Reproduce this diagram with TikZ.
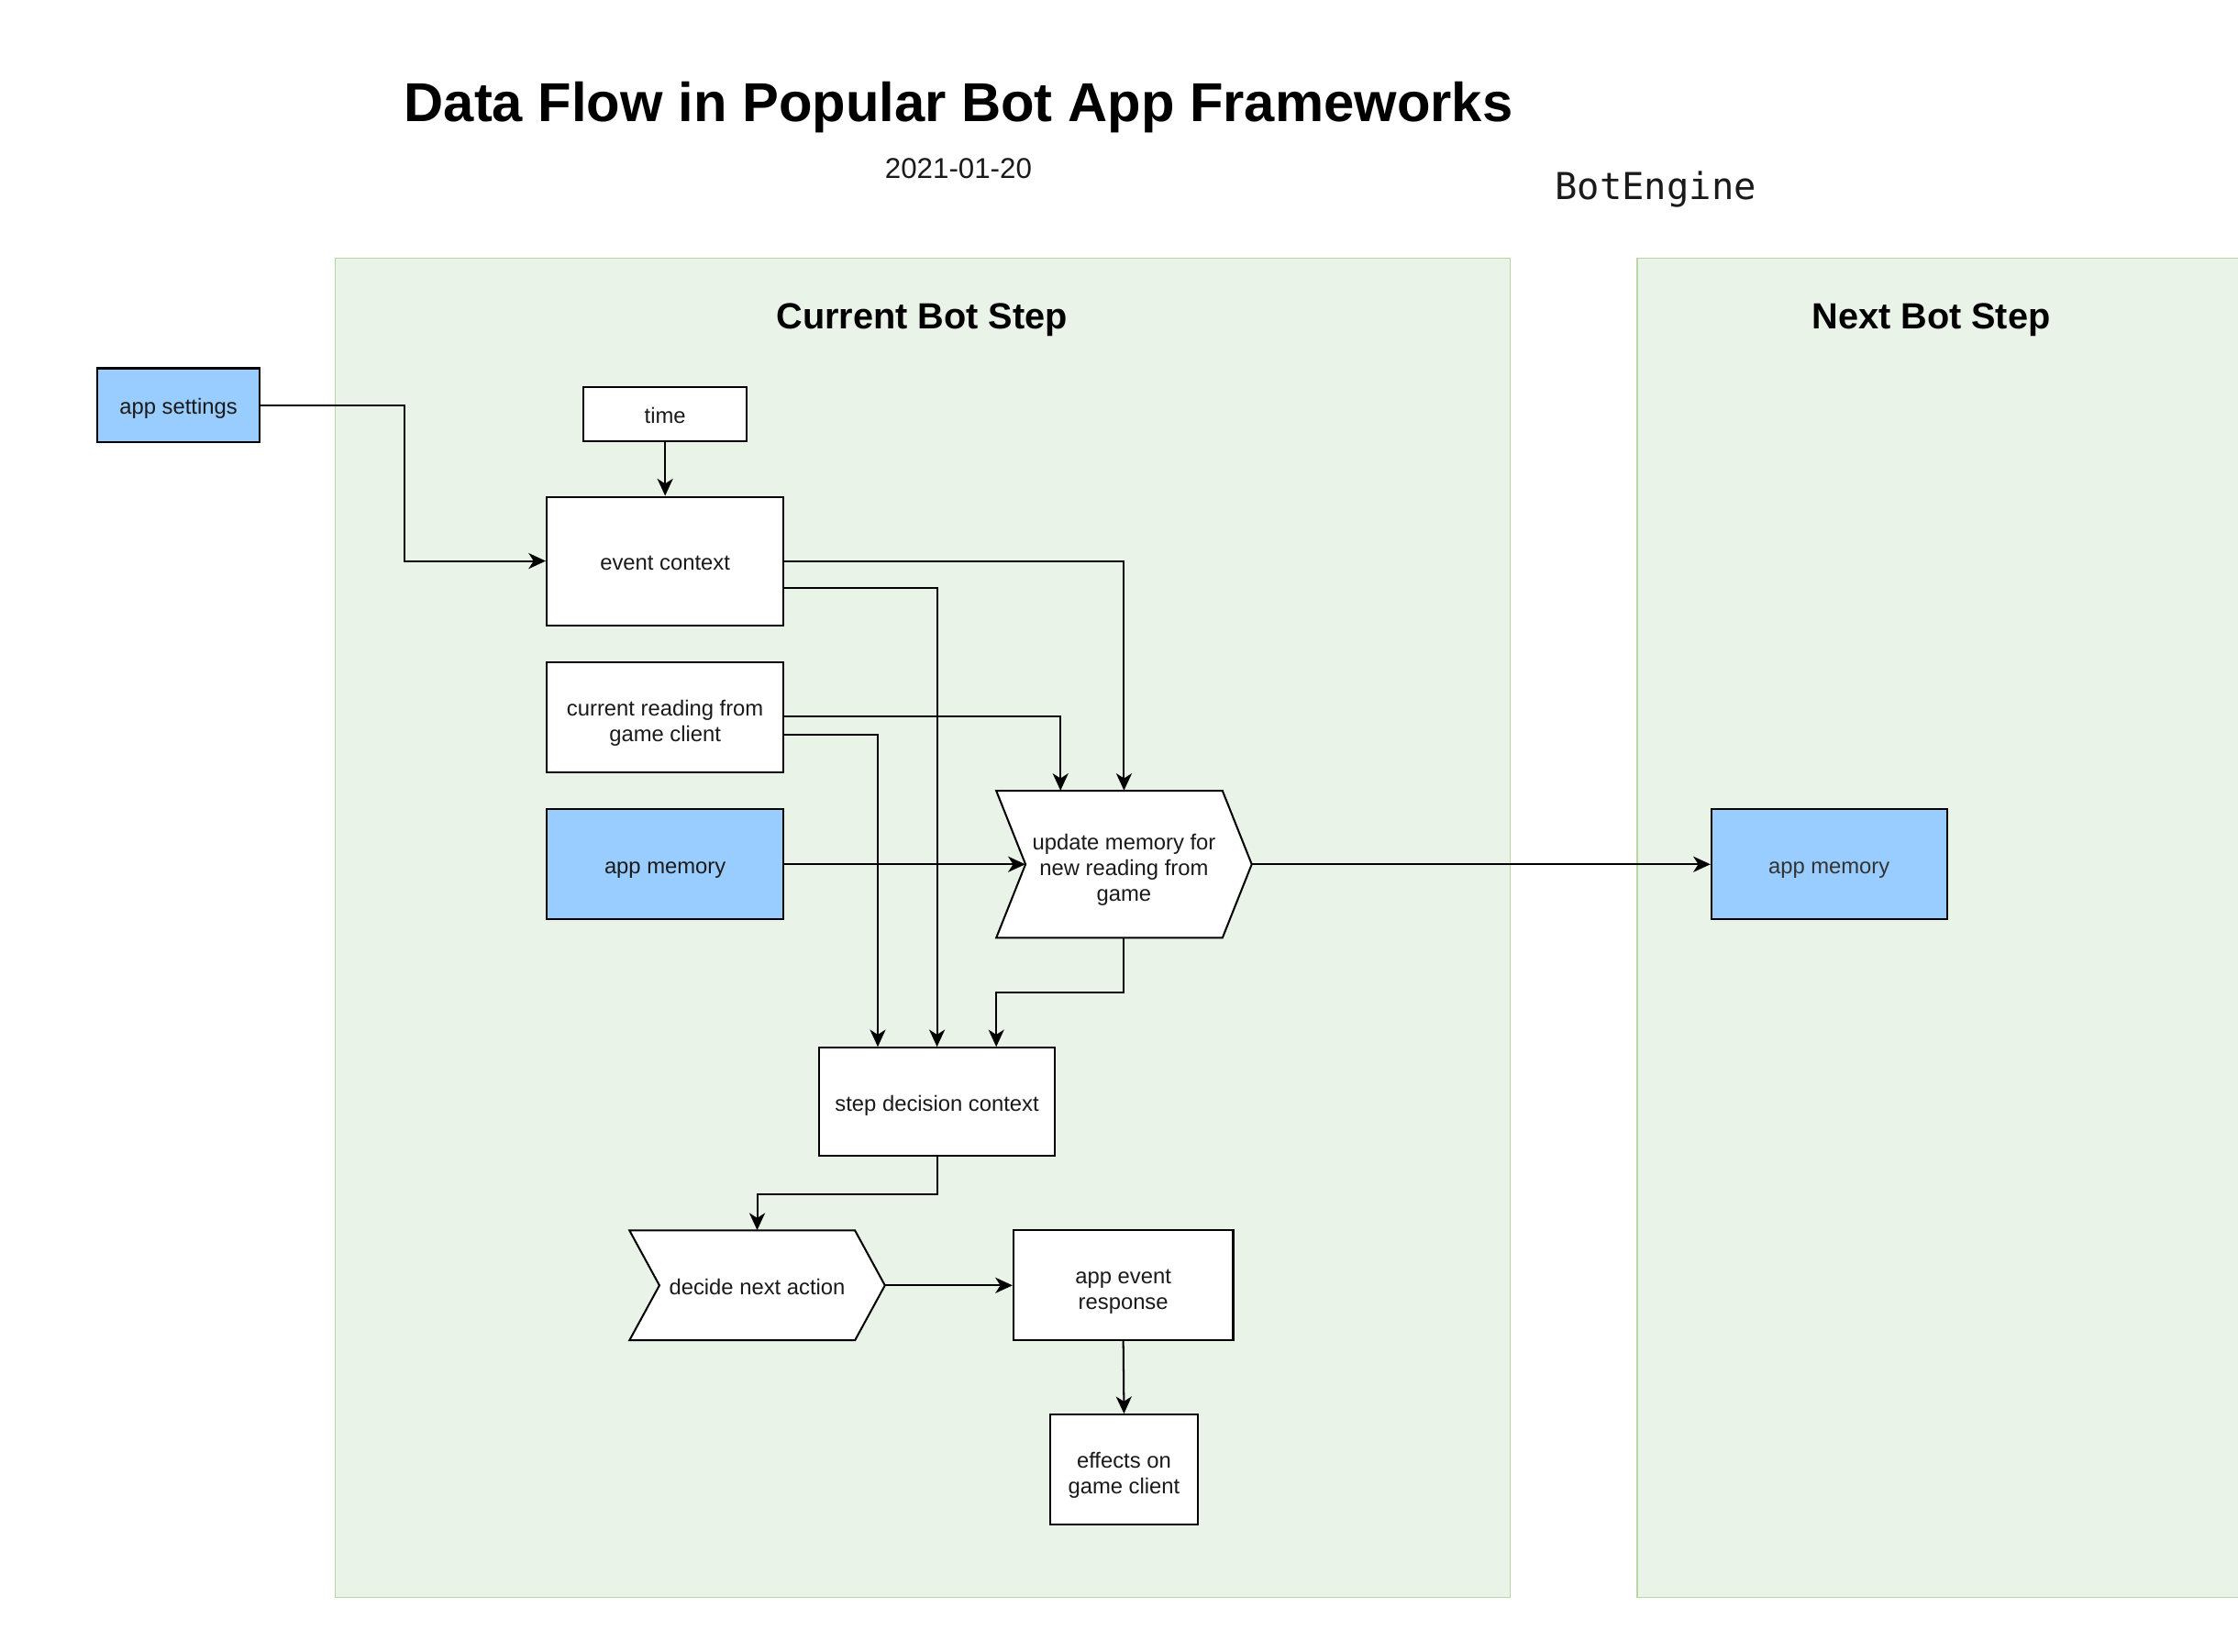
\documentclass[tikz,border=0pt]{standalone}
\usepackage{fontspec}
\setmainfont{Liberation Sans}
\newfontfamily\dfmono{DejaVu Sans Mono}
\usetikzlibrary{arrows.meta,calc}
\definecolor{contfill}{RGB}{233,243,232}
\definecolor{contdraw}{RGB}{185,215,165}
\definecolor{memblue}{RGB}{153,204,255}
\definecolor{txt}{RGB}{26,26,26}
\newcommand\dfbody{\fontsize{15.3}{18}\selectfont}
\newcommand\dfstrut{\rule[-4pt]{0pt}{20.8pt}}
\newcommand\dftopstrut{\rule[-4pt]{0pt}{23.8pt}}
\begin{document}
\begin{tikzpicture}[x=1pt,y=-1pt,
  box/.style={draw=black, line width=1.3pt, fill=white, inner sep=0pt, align=center, font=\dfbody, text=txt,
    execute at begin node=\dfstrut, execute at end node=\dfstrut},
  membox/.style={box, fill=memblue},
  chevtext/.style={inner sep=0pt, align=center, font=\dfbody, text=txt,
    execute at begin node=\dfstrut, execute at end node=\dfstrut},
  chev/.style={draw=black, line width=1.3pt, fill=white, line join=miter},
  cont/.style={draw=contdraw, line width=1pt, fill=contfill},
  arr/.style={draw=black, line width=1.3pt, -{Stealth[length=12pt,width=11pt,inset=3.5pt]}},
  conttitle/.style={font=\fontsize{25.5}{30}\selectfont\bfseries, text=black}
]
\useasboundingbox (0,0) rectangle (1568,1157);
\clip (0,0) rectangle (1568,1157);
\fill[white] (0,0) rectangle (1568,1157);

% titles
\node[font=\fontsize{38.4}{46}\selectfont\bfseries, text=black] (title) at (671.5,75) {Data Flow in Popular Bot App Frameworks};
\node[font=\fontsize{20.1}{24}\selectfont, text=txt] (date) at (671.5,118) {2021-01-20};
\node[font=\fontsize{26}{30}\dfmono, text=txt] (engine) at (1160,133) {BotEngine};

% containers
\path[cont] (235,181) rectangle (1058,1119);
\path[cont] (1147,181) rectangle (1600,1119);
\node[conttitle] (curtitle) at (646,224) {Current Bot Step};
\node[conttitle] (nexttitle) at (1353,224) {Next Bot Step};

% chevron outlines
\path[chev] (698,554) -- (856.5,554) -- (877,605.5) -- (856.5,657) -- (698,657) -- (718.5,605.5) -- cycle;
\path[chev] (441,862) -- (599,862) -- (620,900.5) -- (599,939) -- (441,939) -- (462,900.5) -- cycle;

% nodes
\node[membox, minimum width=114pt, minimum height=52pt] (sett) at (125,284) {app settings};
\node[box, minimum width=114pt, minimum height=38pt] (time) at (466,290) {time};
\node[box, minimum width=166pt, minimum height=90pt] (evt) at (466,393) {event context};
\node[box, minimum width=166pt, minimum height=77pt] (cur) at (466,502.5) {\dftopstrut current reading from\\game client};
\node[membox, minimum width=166pt, minimum height=77pt] (mem) at (466,605.5) {app memory};
\node[chevtext, minimum width=179pt, minimum height=103pt] (upd) at (787.5,605.5) {\dftopstrut update memory for\\new reading from\\game};
\node[box, minimum width=165pt, minimum height=76pt] (step) at (656.5,772) {step decision context};
\node[chevtext, minimum width=179pt, minimum height=77pt] (dec) at (530.5,900.5) {decide next action};
\node[box, minimum width=154pt, minimum height=77pt] (resp) at (787,900.5) {\dftopstrut app event\\response};
\node[box, minimum width=103pt, minimum height=77pt] (eff) at (787.5,1029.5) {\dftopstrut effects on\\game client};
\node[membox, minimum width=165pt, minimum height=77pt, text={rgb,255:red,51;green,51;blue,51}] (mem2) at (1281.5,605.5) {app memory};

% connectors
\draw[arr] (sett.east) -- ++(101,0) |- (evt.west);
\draw[arr] (time.south) -- (evt.north);
\draw[arr] (evt.east) -| (upd.north);
\draw[arr] ($(evt.east)+(0,19)$) -| (step.north);
\draw[arr] ($(cur.east)+(0,-0.5)$) -| ($(upd.north)+(-44.5,0)$);
\draw[arr] ($(cur.east)+(0,12.5)$) -| ($(step.north)+(-41.5,0)$);
\draw[arr] (mem.east) -- ($(upd.west)+(20.5,0)$);
\draw[arr] (upd.east) -- (mem2.west);
\draw[arr] (upd.south) -- ++(0,38) -| ($(step.north)+(41.5,0)$);
\draw[arr] (step.south) -- ++(0,26) -| (dec.north);
\draw[arr] (dec.east) -- (resp.west);
\draw[arr] (resp.south) -- (eff.north);
\end{tikzpicture}
\end{document}
